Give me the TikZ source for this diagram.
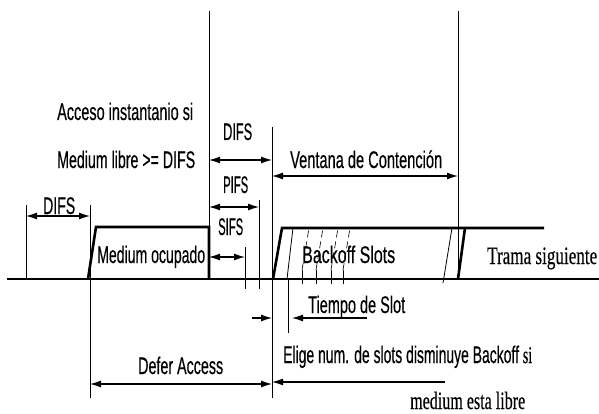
\documentclass[tikz,border=0pt]{standalone}
\usepackage{graphicx}
\usepackage{fontspec}
\setmainfont[FakeBold=0.5]{Liberation Sans}
\newfontfamily\tramafont[FakeBold=0.4]{Liberation Serif}
\usetikzlibrary{arrows.meta}
\newcommand{\ancho}[2]{\resizebox{#1pt}{\height}{#2}}
\tikzset{
  senal/.style={line width=2.6pt, line join=miter},
  guia/.style={line width=0.8pt},
  tip/.style={-{Latex[length=11pt,width=7pt]}, line width=1.2pt},
  cota/.style={{Latex[length=11pt,width=7pt]}-{Latex[length=11pt,width=7pt]}, line width=1.2pt},
  ranura/.style={line width=0.6pt, dash pattern=on 7pt off 4pt},
  txt/.style={font=\fontsize{24}{26}\selectfont, inner sep=0pt, anchor=base west},
  txtser/.style={txt, font=\fontsize{25}{27}\selectfont\tramafont}
}
\begin{document}
\begin{tikzpicture}[x=1pt,y=-1pt]
\useasboundingbox (0,0) rectangle (599,414);
% guide lines
\coordinate (v1t) at (26,205);  \coordinate (v1b) at (26,279);
\coordinate (v2t) at (90,205);  \coordinate (v2b) at (90,398);
\coordinate (v3t) at (209,11);  \coordinate (v3b) at (209,279);
\coordinate (v4t) at (245,247); \coordinate (v4b) at (245,289);
\coordinate (v5t) at (259,200); \coordinate (v5b) at (259,289);
\coordinate (v6t) at (272,127); \coordinate (v6b) at (272,398);
\coordinate (v7t) at (288,279); \coordinate (v7b) at (288,333);
\coordinate (v8t) at (458,11);  \coordinate (v8b) at (458,279);
\foreach \i in {1,...,8}
  \draw[guia] (v\i t) -- (v\i b);
% medium line and frames
\draw[senal] (7,279) -- (599,279);
\draw[senal] (88,279) -- (96,227) -- (209,227) -- (209,279);
\draw[senal] (273,279) -- (282,228) -- (544,228);
\draw[senal] (458,279) -- (465,228);
\draw[guia] (287,279) -- (293,228);
\draw[guia] (443,283) -- (452,228);
% backoff slots
\foreach \x in {302,316,331,343} {
  \draw[guia] (\x,284) -- (\x,270);
  \draw[ranura] (\x,270) -- (\x+7,228);
}
% dimensions
\draw[cota] (v1t |- 0,216) -- (v2t |- 0,216);
\draw[cota] (v3t |- 0,160) -- (v6t |- 0,160);
\draw[cota] (v3t |- 0,207) -- (v5t |- 0,207);
\draw[cota] (v3t |- 0,257) -- (v4t |- 0,257);
\draw[cota] (v6t |- 0,176) -- (v8t |- 0,176);
\draw[cota] (v2t |- 0,384) -- (v6t |- 0,384);
\draw[tip] (445,382) -- (v6t |- 0,382);
\draw[tip] (252,318) -- (v6t |- 0,318);
\draw[tip] (367,318) -- (292,318);
% labels
\node[txt] (acceso) at (57,120) {\ancho{136}{Acceso instantanio si}};
\node[txt] (libre) at (57,168) {\ancho{138}{Medium libre >= DIFS}};
\node[txt] (difsa) at (223,140) {\ancho{29}{DIFS}};
\node[txt] (pifs) at (223,193) {\ancho{25}{PIFS}};
\node[txt] (sifs) at (218,235) {\ancho{25}{SIFS}};
\node[txt] (difsb) at (43,214) {\ancho{32}{DIFS}};
\node[txt] (ventana) at (290,168) {\ancho{152}{Ventana de Contención}};
\node[txt] (ocupado) at (97,263) {\ancho{108}{Medium ocupado}};
\node[txt] (backoff) at (302,263) {\ancho{93}{Backoff Slots}};
\node[txtser] (trama) at (487,264) {\ancho{110}{Trama siguiente}};
\node[txt] (tslot) at (308,313) {\ancho{97}{Tiempo de Slot}};
\node[txt] (defer) at (138,374) {\ancho{85}{Defer Access}};
\node[txt] (elige) at (283,363) {\ancho{249}{Elige num. de slots disminuye Backoff {\tramafont si}}};
\node[txtser] (esta) at (410,409) {\ancho{115}{medium esta libre}};
\end{tikzpicture}
\end{document}
